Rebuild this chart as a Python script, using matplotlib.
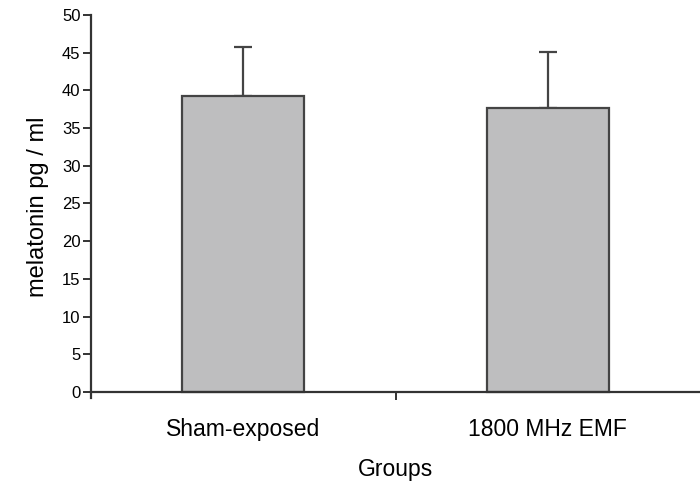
import matplotlib.pyplot as plt

plt.rcParams['font.family'] = ['Liberation Sans', 'DejaVu Sans']

groups = ['Sham-exposed', '1800 MHz EMF']
melatonin = [39.3, 37.7]
sd = [6.4, 7.4]
yticks = [0, 5, 10, 15, 20, 25, 30, 35, 40, 45, 50]

fig = plt.figure(figsize=(7, 4.82), dpi=100)
ax = fig.add_axes([0.13, 0.1743, 0.87, 0.7946])

pos = list(range(len(groups)))
ax.bar(pos, melatonin, width=0.4, color='#bebebf', edgecolor='#444444', linewidth=1.6, zorder=2)
ax.errorbar(pos, melatonin, yerr=[[0, 0], sd], fmt='none', ecolor='#444444',
            elinewidth=1.6, capsize=6.5, capthick=1.6, zorder=1)

ax.set_xlim(-0.5, 1.5)
ax.set_ylim(-0.8, 50)
ax.spines['top'].set_visible(False)
ax.spines['right'].set_visible(False)
ax.spines['bottom'].set_position(('data', 0))
for s in ['left', 'bottom']:
    ax.spines[s].set_color('#333333')
    ax.spines[s].set_linewidth(1.6)

ax.set_yticks(yticks)
ax.tick_params(axis='y', length=5.5, width=1.4, color='#333333', labelsize=12, pad=2)
ax.set_xticks(pos)
ax.set_xticklabels(groups, fontsize=16.5)
ax.set_xticks([0.5], minor=True)
ax.tick_params(axis='x', which='major', length=0, pad=19)
ax.tick_params(axis='x', which='minor', length=6, width=1.4, color='#333333')

ax.set_ylabel('melatonin pg / ml', fontsize=17, labelpad=9)
ax.set_xlabel('Groups', fontsize=16.5, labelpad=12)

fig.savefig('out.png', dpi=100)
